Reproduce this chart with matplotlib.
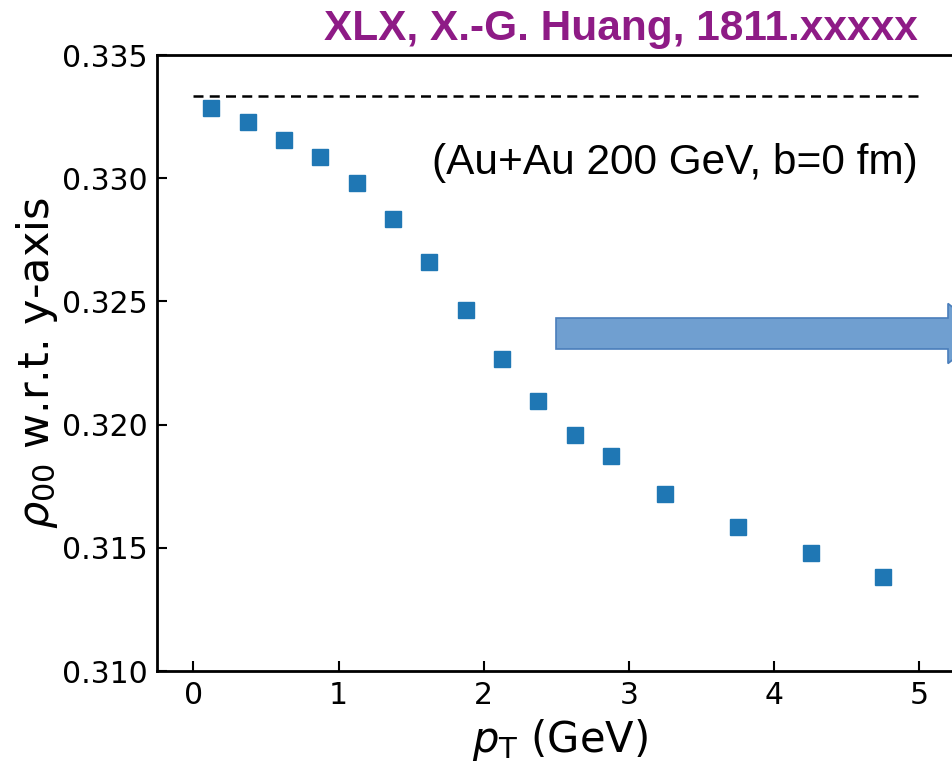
"""rho_00 vs pT scatter with reference line and annotation arrow."""

import matplotlib
matplotlib.use("Agg")
import matplotlib.pyplot as plt
from matplotlib.patches import FancyArrow

# data
pt = [0.125, 0.375, 0.625, 0.875, 1.125, 1.375, 1.625, 1.875,
      2.125, 2.375, 2.625, 2.875, 3.25, 3.75, 4.25, 4.75]
rho00 = [0.33285, 0.33228, 0.33155, 0.33086, 0.32981, 0.32834, 0.3266, 0.32465,
         0.32266, 0.32096, 0.31958, 0.31873, 0.31719, 0.31585, 0.31479, 0.31382]
ref_level = 1.0 / 3.0
xticks = [0, 1, 2, 3, 4, 5]
yticks = [0.310, 0.315, 0.320, 0.325, 0.330, 0.335]

fig = plt.figure(figsize=(9.52, 7.62), dpi=100)
ax = fig.add_axes([157 / 952, 91 / 762, 806 / 952, 616 / 762])

ax.hlines(ref_level, 0, 5, colors="black", linestyles=(0, (4, 2.5)), linewidth=1.8)
ax.plot(pt, rho00, ls="none", marker="s", ms=11.5, color="#1f77b4", mec="#1f77b4")

ax.set_xlim(-0.25, 5.3)
ax.set_ylim(0.310, 0.335)
ax.set_xticks(xticks)
ax.set_yticks(yticks)
ax.set_yticklabels([f"{v:.3f}" for v in yticks])
ax.tick_params(direction="in", length=7, width=1.5, labelsize=21.5, pad=7)
for s in ax.spines.values():
    s.set_linewidth(2)

ax.set_xlabel(r"$p_\mathrm{T}$ (GeV)", fontsize=30, labelpad=5)
ax.set_ylabel(r"$\rho_{00}$ w.r.t. y-axis", fontsize=31, labelpad=1)

fig.text(918 / 952, 1 - 163 / 762, "(Au+Au 200 GeV, b=0 fm)",
         family="Liberation Sans", fontsize=30.5, ha="right", va="center")
fig.text(918 / 952, 1 - 29 / 762, "XLX, X.-G. Huang, 1811.xxxxx",
         family=["Liberation Sans Narrow", "Liberation Sans"], fontweight="bold",
         fontsize=30.5, color="#8e1b86", ha="right", va="center")

arrow = FancyArrow(556 / 952, 1 - 333.5 / 762, 430 / 952, 0,
                   width=31 / 762, head_width=60 / 762, head_length=38 / 952,
                   length_includes_head=True, transform=fig.transFigure,
                   facecolor="#709fd0", edgecolor="#4a7ebb", linewidth=1.2)
fig.patches.append(arrow)

fig.savefig("out.png", dpi=100)
